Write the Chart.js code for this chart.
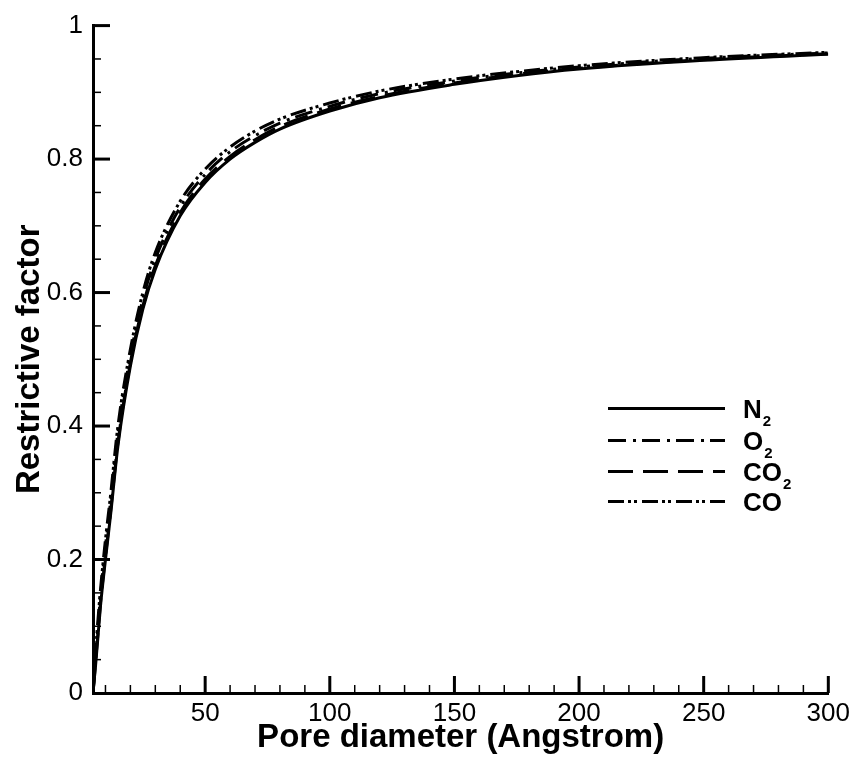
<!DOCTYPE html>
<html>
<head>
<meta charset="utf-8">
<script src="https://cdn.jsdelivr.net/npm/chart.js@4.4.1/dist/chart.umd.min.js"></script>
<style>
  html, body { margin: 0; padding: 0; background: #fff; }
  #wrap { width: 855px; height: 762px; }
</style>
</head>
<body>
<div id="wrap"><canvas id="rfChart"></canvas></div>
<script>
// values
const poreDiameter = [5, 6, 7, 8, 10, 12, 15, 20, 25, 30, 40, 50, 60, 70, 80, 100, 120, 150, 175, 200, 250, 300];
const n2  = [0, 0.040, 0.085, 0.130, 0.200, 0.265, 0.370, 0.490, 0.575, 0.635, 0.715, 0.765, 0.800, 0.825, 0.845, 0.872, 0.892, 0.912, 0.925, 0.935, 0.948, 0.957];
const o2  = [0, 0.050, 0.100, 0.145, 0.220, 0.285, 0.390, 0.505, 0.590, 0.650, 0.728, 0.777, 0.811, 0.835, 0.854, 0.879, 0.898, 0.917, 0.929, 0.938, 0.951, 0.959];
const co2 = [0, 0.045, 0.090, 0.135, 0.205, 0.270, 0.375, 0.495, 0.580, 0.640, 0.720, 0.770, 0.804, 0.829, 0.849, 0.875, 0.894, 0.914, 0.927, 0.936, 0.949, 0.958];
const co  = [0, 0.060, 0.110, 0.155, 0.230, 0.295, 0.400, 0.515, 0.600, 0.660, 0.737, 0.785, 0.818, 0.842, 0.860, 0.884, 0.902, 0.920, 0.931, 0.940, 0.952, 0.960];

const seriesNames = [["N", "2"], ["O", "2"], ["CO", "2"], ["CO", ""]];
const xTickValues = [50, 100, 150, 200, 250, 300];
const yTickValues = [0, 0.2, 0.4, 0.6, 0.8, 1];

const FONT = '"Liberation Sans", Arial, Helvetica, sans-serif';

// inward ticks (major + minor) like the original plot
const axisTicks = {
  id: "axisTicks",
  afterDatasetsDraw(chart) {
    const { ctx, chartArea: a, scales: { x, y } } = chart;
    ctx.save();
    ctx.strokeStyle = "#000";
    const line = (x1, y1, x2, y2, w) => {
      ctx.lineWidth = w;
      ctx.beginPath();
      ctx.moveTo(x1, y1);
      ctx.lineTo(x2, y2);
      ctx.stroke();
    };
    for (let v = 10; v <= 300; v += 10) {
      const px = x.getPixelForValue(v);
      const major = v % 50 === 0;
      line(px, a.bottom, px, a.bottom - (major ? 17 : 8), major ? 3 : 1.5);
    }
    for (let i = 1; i <= 20; i++) {
      const v = i * 0.05;
      const py = y.getPixelForValue(v);
      const major = i % 4 === 0;
      line(a.left, py, a.left + (major ? 17 : 8), py, major ? 3 : 1.5);
    }
    ctx.restore();
  }
};

// legend drawn inside the plot area
const lineLegend = {
  id: "lineLegend",
  afterDraw(chart) {
    const { ctx, chartArea: a } = chart;
    const x0 = a.left + 515, x1 = a.left + 632, tx = a.left + 650;
    const rows = [383, 415, 446, 476];
    ctx.save();
    chart.data.datasets.forEach((ds, i) => {
      const yy = a.top + rows[i];
      ctx.strokeStyle = "#000";
      ctx.lineWidth = 3;
      ctx.setLineDash(ds.borderDash || []);
      ctx.beginPath();
      ctx.moveTo(x0, yy);
      ctx.lineTo(x1, yy);
      ctx.stroke();
      ctx.setLineDash([]);
      const [main, sub] = seriesNames[i];
      ctx.fillStyle = "#000";
      ctx.textBaseline = "alphabetic";
      ctx.textAlign = "left";
      ctx.font = "bold 26px " + FONT;
      ctx.fillText(main, tx, yy + 9);
      if (sub) {
        const w = ctx.measureText(main).width;
        ctx.font = "bold 15px " + FONT;
        ctx.fillText(sub, tx + w + 1, yy + 17);
      }
    });
    ctx.restore();
  }
};

const common = {
  borderColor: "#000",
  borderWidth: 3,
  pointRadius: 0,
  fill: false,
  cubicInterpolationMode: "monotone"
};

new Chart(document.getElementById("rfChart"), {
  type: "line",
  data: {
    datasets: [
      { ...common, label: "N2",  data: poreDiameter.map((d, i) => ({ x: d, y: n2[i] })),  borderDash: [] },
      { ...common, label: "O2",  data: poreDiameter.map((d, i) => ({ x: d, y: o2[i] })),  borderDash: [18, 7, 3, 6] },
      { ...common, label: "CO2", data: poreDiameter.map((d, i) => ({ x: d, y: co2[i] })), borderDash: [25, 10] },
      { ...common, label: "CO",  data: poreDiameter.map((d, i) => ({ x: d, y: co[i] })),  borderDash: [16, 4, 3, 3, 3, 5] }
    ]
  },
  options: {
    responsive: true,
    maintainAspectRatio: false,
    devicePixelRatio: 1,
    animation: false,
    layout: { padding: { top: 22, right: 25, left: 0, bottom: 0 } },
    plugins: { legend: { display: false }, tooltip: { enabled: false } },
    scales: {
      x: {
        type: "linear",
        min: 5,
        max: 300,
        grid: { display: false, drawTicks: false },
        border: { display: true, color: "#000", width: 3 },
        afterBuildTicks: (s) => { s.ticks = xTickValues.map((v) => ({ value: v })); },
        afterFit: (s) => { s.height = 69; },
        ticks: { color: "#000", padding: 5, maxRotation: 0, font: { family: FONT, size: 26 },
                 callback: (v) => String(v) },
        title: {
          display: true,
          text: "Pore diameter (Angstrom)",
          color: "#000",
          padding: { top: 0, bottom: 4 },
          font: { family: FONT, size: 33, weight: "bold" }
        }
      },
      y: {
        type: "linear",
        min: 0,
        max: 1,
        grid: { display: false, drawTicks: false },
        border: { display: true, color: "#000", width: 3 },
        afterBuildTicks: (s) => { s.ticks = yTickValues.map((v) => ({ value: v })); },
        afterFit: (s) => { s.width = 93; },
        ticks: { color: "#000", padding: 10, font: { family: FONT, size: 26 },
                 callback: (v) => String(v) },
        title: {
          display: true,
          text: "Restrictive factor",
          color: "#000",
          padding: { top: 10, bottom: 0 },
          font: { family: FONT, size: 33, weight: "bold" }
        }
      }
    }
  },
  plugins: [axisTicks, lineLegend]
});
</script>
</body>
</html>
